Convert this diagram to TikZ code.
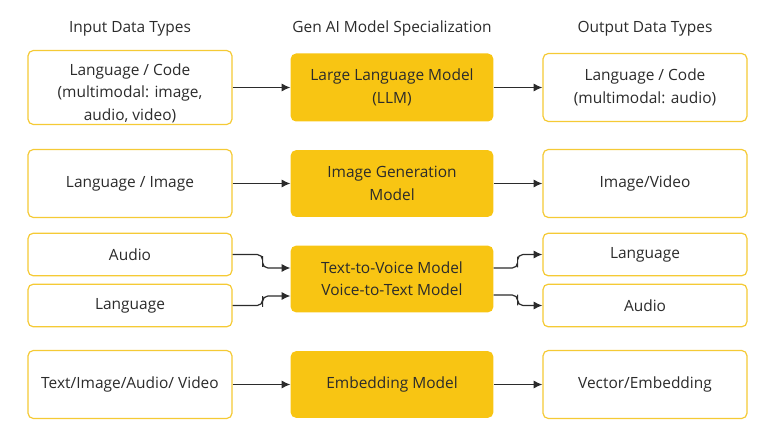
\documentclass[tikz,border=0pt]{standalone}
\usepackage{fontspec}
\setmainfont{Open Sans}
\usetikzlibrary{calc,arrows.meta}
\definecolor{gold}{HTML}{F8C513}
\definecolor{goldline}{HTML}{F5CA35}
\definecolor{ink}{HTML}{2B2B2B}
\tikzset{
  databox/.style={draw=goldline, line width=0.9pt, fill=white, rounded corners=4,
    minimum width=153pt, minimum height=#1, align=center, text=ink,
    font=\fontsize{11.6}{16.8}\selectfont},
  modelbox/.style={fill=gold, rounded corners=4, minimum width=152pt,
    minimum height=#1, align=center, text=ink,
    font=\fontsize{11.6}{16.8}\selectfont},
  head/.style={text=ink, font=\fontsize{11.6}{14}\selectfont},
  link/.style={->, >={Latex[length=6.5pt,width=6pt]}, line width=0.9pt, draw=ink, rounded corners=4}
}
\begin{document}
\begin{tikzpicture}[x=0.75pt, y=-0.75pt]
        \useasboundingbox (0,0) rectangle (778,441);
        % column titles
        \node[head] (h1) at (130,28.5) {Input Data Types};
        \node[head] (h2) at (392,28.5) {Gen AI Model Specialization};
        \node[head] (h3) at (645,28.5) {Output Data Types};

        % language models
        \node[databox=55.5pt, inner ysep=0pt] (in1) at (130,87.5) {\rule{0pt}{17pt}Language / Code\\(multimodal: image,\\audio, video)};
        \node[modelbox=51pt] (m1) at (392,87.5) {Large Language Model\\(LLM)};
        \node[databox=51pt] (out1) at (645,87.5) {Language / Code\\(multimodal: audio)};

        % image models
        \node[databox=51pt] (in2) at (130,183.5) {Language / Image};
        \node[modelbox=50pt] (m2) at (392,183.5) {Image Generation\\Model};
        \node[databox=51pt] (out2) at (645,183.5) {Image/Video};

        % voice models
        \node[databox=32pt] (in3a) at (130,254.5) {Audio};
        \node[databox=32pt] (in3b) at (130,305.5) {Language};
        \node[modelbox=50pt] (m3) at (392,279) {Text-to-Voice Model\\Voice-to-Text Model};
        \node[databox=32pt] (out3a) at (645,254.5) {Language};
        \node[databox=32pt] (out3b) at (645,305.5) {Audio};

        % embedding models
        \node[databox=51pt] (in4) at (130,384.5) {Text/Image/Audio/ Video};
        \node[modelbox=50pt] (m4) at (392,384.5) {Embedding Model};
        \node[databox=51pt] (out4) at (645,384.5) {Vector/Embedding};

        \coordinate (t3a) at ($(m3.west)+(0,-11)$);
        \coordinate (t3b) at ($(m3.west)+(0,17)$);
        \coordinate (s3a) at ($(m3.east)+(0,-11)$);
        \coordinate (s3b) at ($(m3.east)+(0,16)$);

        \draw[link] (in1) -- (m1);
        \draw[link] (m1) -- (out1);
        \draw[link] (in2) -- (m2);
        \draw[link] (m2) -- (out2);
        \draw[link] (in3a.east) -| ($(in3a.east)+(30,7)$) |- (t3a);
        \draw[link] (in3b.east) -| ($(in3b.east)+(30,-4)$) |- (t3b);
        \draw[link] (s3a) -| ($(s3a)+(24,-6)$) |- (out3a.west);
        \draw[link] (s3b) -| ($(s3b)+(24,5)$) |- (out3b.west);
        \draw[link] (in4) -- (m4);
        \draw[link] (m4) -- (out4);
\end{tikzpicture}
\end{document}
